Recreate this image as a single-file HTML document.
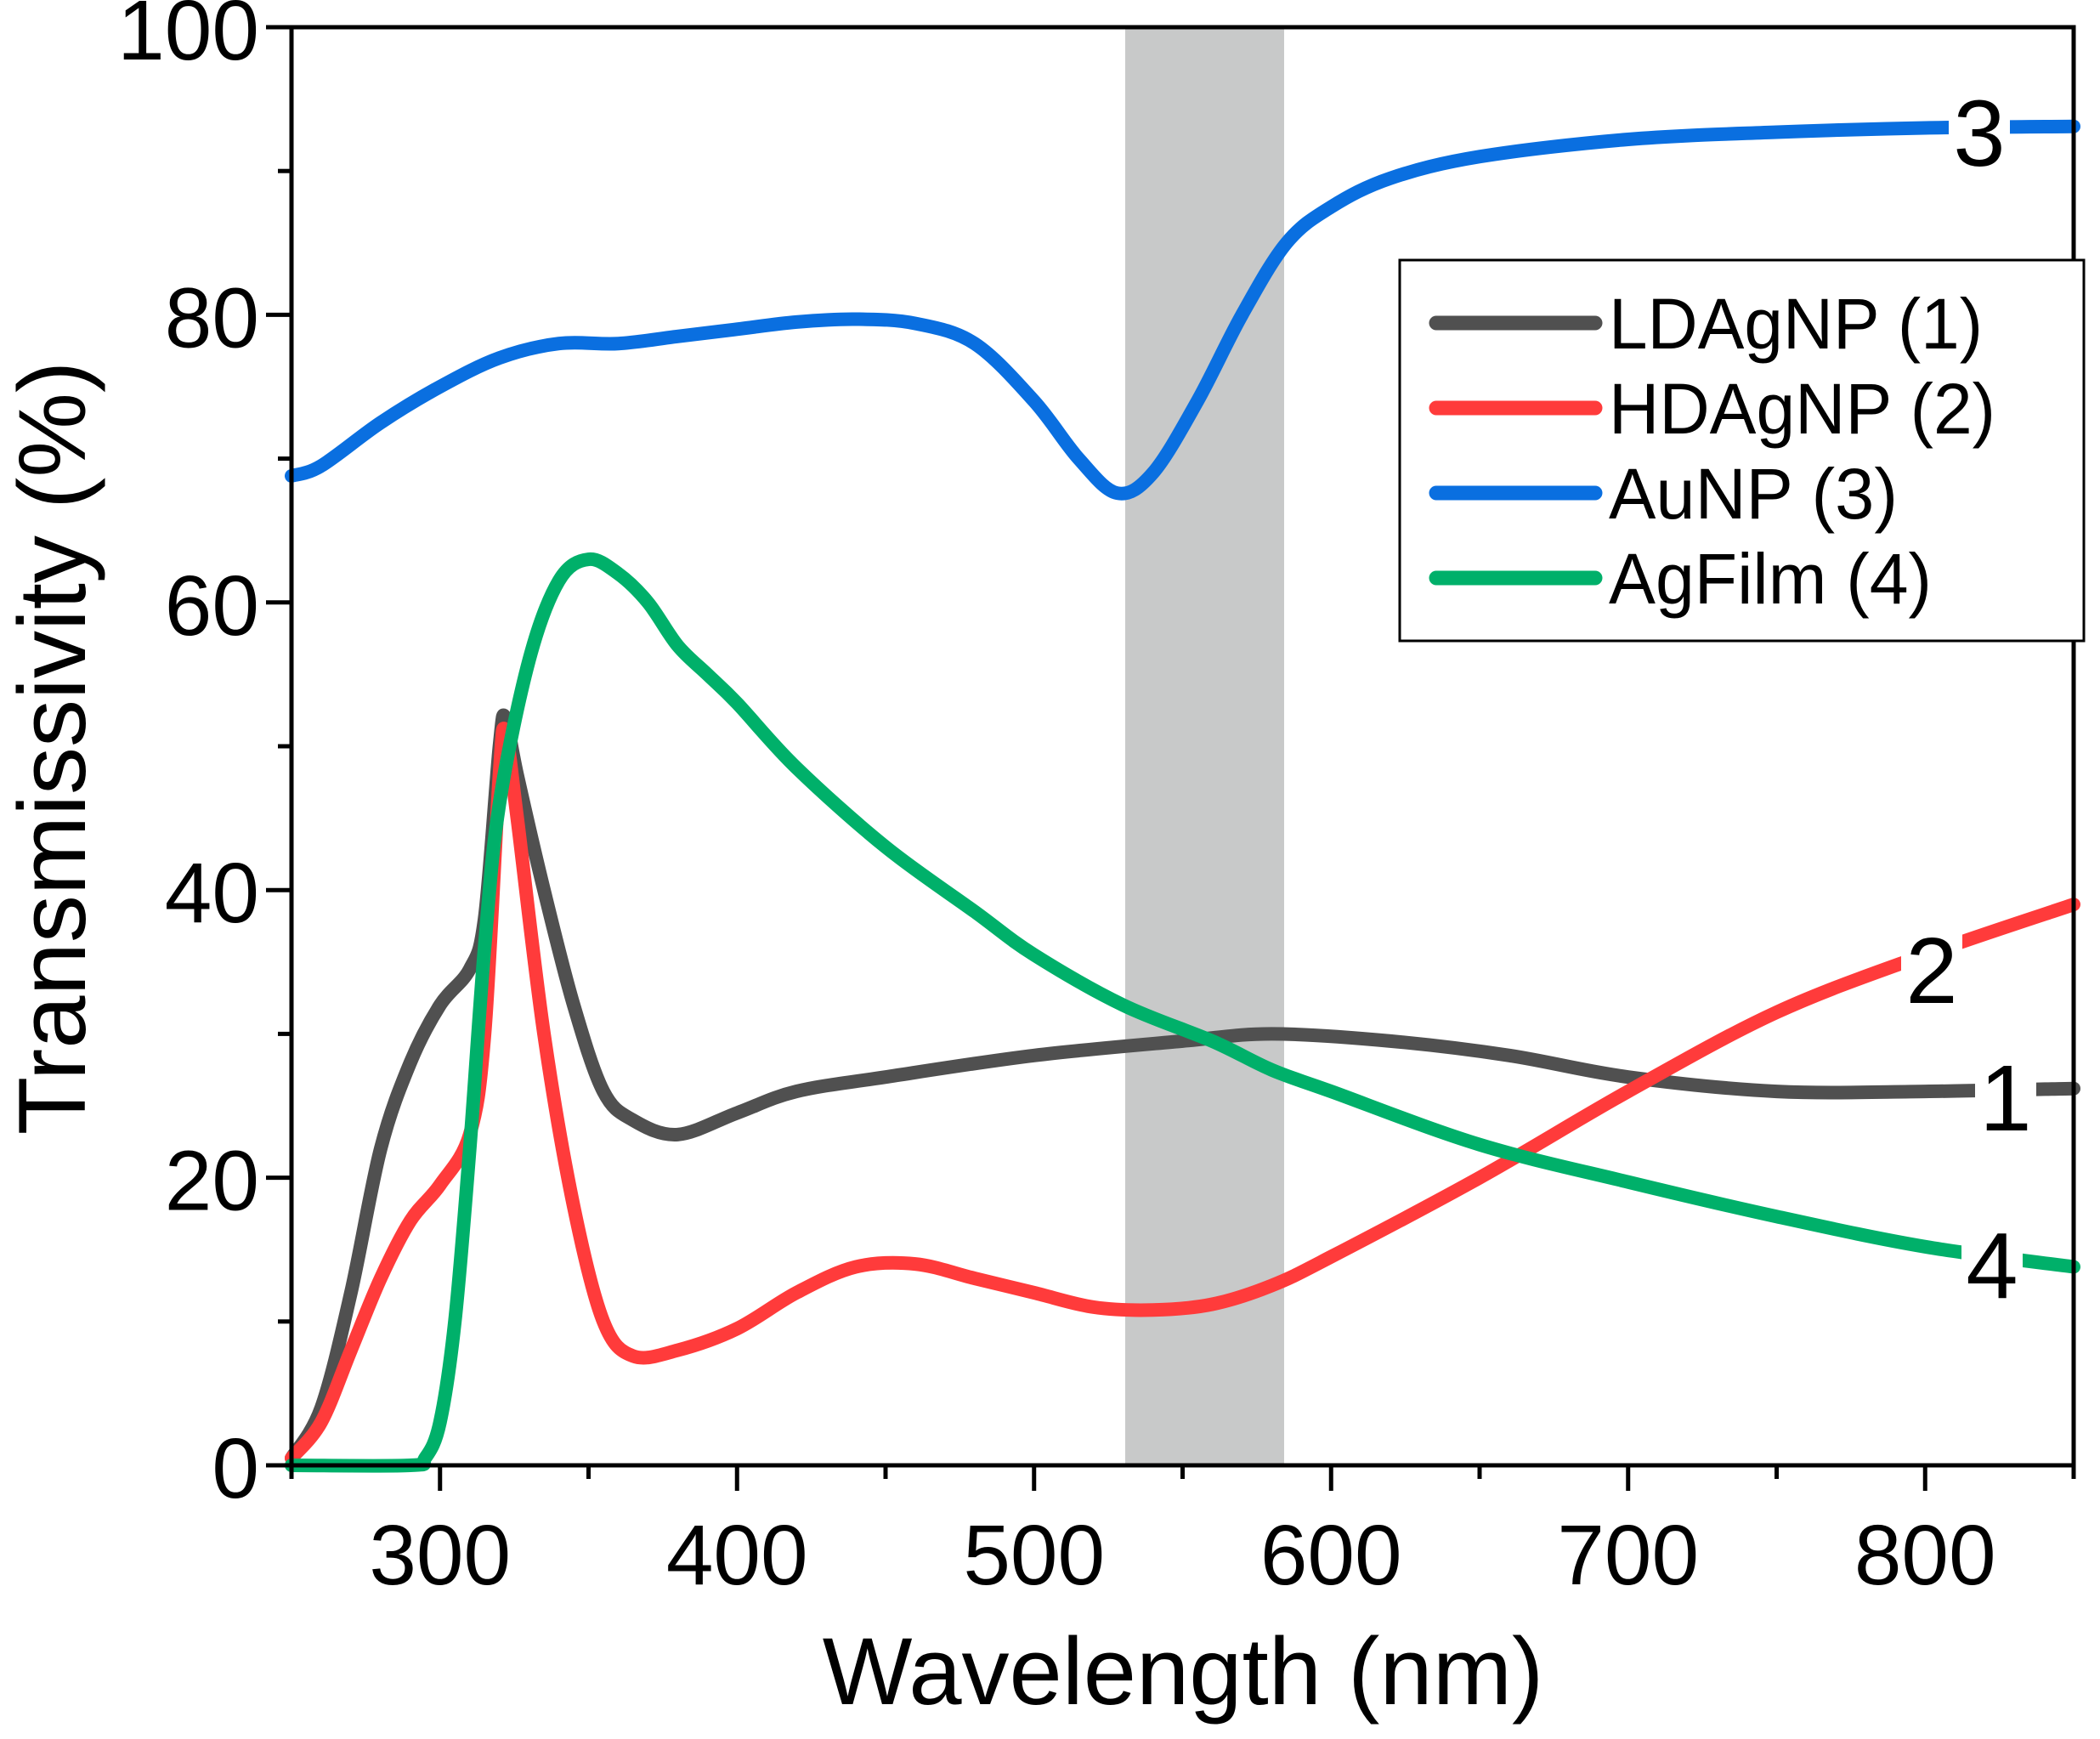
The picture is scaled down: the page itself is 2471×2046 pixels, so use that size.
<!DOCTYPE html>
<html><head><meta charset="utf-8"><style>
html,body{margin:0;padding:0;background:#fff}
svg{display:block}
text{font-family:"Liberation Sans",Arial,sans-serif;fill:#000}
</style></head><body>
<svg id="chart" width="2471" height="2046" viewBox="0 0 2471 2046" xmlns="http://www.w3.org/2000/svg">
<rect x="1324" y="32" width="187" height="1692" fill="#c8c9c9"/>
<g id="series"></g>
<g id="axes"></g>
<g>
<rect x="1647" y="306" width="805" height="448" fill="#fff" stroke="#000" stroke-width="3"/>
<line x1="1690" y1="380" x2="1877" y2="380" stroke="#505050" stroke-width="17" stroke-linecap="round"/>
<text x="1893" y="410" font-size="84" textLength="440" lengthAdjust="spacingAndGlyphs">LDAgNP (1)</text>
<line x1="1690" y1="480" x2="1877" y2="480" stroke="#ff3b3b" stroke-width="17" stroke-linecap="round"/>
<text x="1893" y="510" font-size="84" textLength="455" lengthAdjust="spacingAndGlyphs">HDAgNP (2)</text>
<line x1="1690" y1="580" x2="1877" y2="580" stroke="#0a6fe0" stroke-width="17" stroke-linecap="round"/>
<text x="1893" y="610" font-size="84" textLength="340" lengthAdjust="spacingAndGlyphs">AuNP (3)</text>
<line x1="1690" y1="680" x2="1877" y2="680" stroke="#00b06a" stroke-width="17" stroke-linecap="round"/>
<text x="1893" y="710" font-size="84" textLength="380" lengthAdjust="spacingAndGlyphs">AgFilm (4)</text>
</g>
<text transform="translate(100,880) rotate(-90)" text-anchor="middle" font-size="112"><tspan x="0" y="0">Transmissivity (%)</tspan></text>
<text x="1392" y="2005" text-anchor="middle" font-size="112">Wavelength (nm)</text>
</svg>
<script>
const wl1=[250,260,270,280,290,300,310,315,320,322,326,335,345,355,365,380,400,420,450,500,550,580,620,660,700,750,800,850];
const ld=[0.5,4,12,22,28,32,34.5,38,50,52,48,40,32,26,24,23,24.5,26,27,28.5,29.5,30,29.5,28.5,27,26,26,26.2];
const wl2=[250,260,270,280,290,300,310,315,320,322,326,335,345,355,365,380,400,420,440,460,480,500,520,540,560,580,600,650,700,750,800,850];
const hd=[0.5,3,8,13,17,19.5,23,30,48,51,45,30,18,10,7.6,8,9.5,12,13.8,14,13,12,11,10.8,11.2,12.5,14.5,20,26,31.5,35.5,39];
const wl3=[250,260,280,300,320,340,360,380,400,420,440,460,480,500,515,528,540,555,570,585,600,620,650,700,750,800,850];
const au=[68.8,69.5,72.5,75,77,78,78,78.5,79,79.5,79.7,79.4,78,74,70,67.6,69,74,80,85,87.5,89.5,91,92.2,92.7,93,93.1];
const wl4=[250,290,295,300,305,310,315,320,330,340,350,360,370,380,390,400,420,450,480,500,530,560,580,600,650,700,750,800,850];
const ag=[0,0,0.5,3,10,22,36,46,56,61.5,63,62,60,57,55,53,48.5,43,38.5,35.5,32,29.5,27.5,26,22.3,19.7,17.3,15.2,13.8];
const xTicks=[300,400,500,600,700,800];
const yTicks=[0,20,40,60,80,100];
const NS="http://www.w3.org/2000/svg";
const X0=343,X1=2440,Y0=1724,Y1=32;
function sx(v){return X0+(v-250)/(850-250)*(X1-X0);}
function sy(v){return Y0-(v/100)*(Y0-Y1);}
function mk(t,a){const e=document.createElementNS(NS,t);for(const k in a)e.setAttribute(k,a[k]);return e;}
function pathD(xs,ys){
  const p=xs.map((x,i)=>[sx(x),sy(ys[i])]);
  let d="M"+p[0][0]+","+p[0][1];
  for(let i=0;i<p.length-1;i++){
    const p0=p[i-1]||p[i],p1=p[i],p2=p[i+1],p3=p[i+2]||p2;
    const c1=[p1[0]+(p2[0]-p0[0])/6,p1[1]+(p2[1]-p0[1])/6];
    const c2=[p2[0]-(p3[0]-p1[0])/6,p2[1]-(p3[1]-p1[1])/6];
    d+=` C${c1[0]},${c1[1]} ${c2[0]},${c2[1]} ${p2[0]},${p2[1]}`;
  }
  return d;
}
const sg=document.getElementById("series");
[[wl3,au,"#0a6fe0","aunp-line"],[wl1,ld,"#505050","ldagnp-line"],[wl2,hd,"#ff3b3b","hdagnp-line"],[wl4,ag,"#00b06a","agfilm-line"]].forEach(s=>{
  const el=mk("path",{d:pathD(s[0],s[1]),fill:"none",stroke:s[2],"stroke-width":16,"stroke-linejoin":"round","stroke-linecap":"round"});
  
  
  sg.appendChild(el);
});
[["3",2329,195,"label-3"],["2",2273,1180,"label-2"],["1",2360,1330,"label-1"],["4",2344,1527,"label-4"]].forEach(l=>{
  const bg=mk("rect",{x:l[1]-36,y:l[2]-82,width:72,height:84,fill:"#fff"});
  
  
  sg.appendChild(bg);
  const t=mk("text",{x:l[1],y:l[2],"text-anchor":"middle","font-size":110,fill:"#222"});
  t.textContent=l[0];
  
  
  sg.appendChild(t);
});
const ax=document.getElementById("axes");
const frame=mk("rect",{x:X0,y:Y1,width:X1-X0,height:Y0-Y1,fill:"none",stroke:"#000","stroke-width":5});


ax.appendChild(frame);
for(let v=250;v<=850;v+=50){
  const major=xTicks.indexOf(v)>=0;
  const t=mk("line",{x1:sx(v),y1:Y0,x2:sx(v),y2:Y0+(major?30:16),stroke:"#000","stroke-width":5});
  
  
  ax.appendChild(t);
}
xTicks.forEach(v=>{
  const t=mk("text",{x:sx(v),y:Y0+140,"text-anchor":"middle","font-size":100});
  t.textContent=v;
  
  
  ax.appendChild(t);
});
for(let v=0;v<=100;v+=10){
  const major=yTicks.indexOf(v)>=0;
  const t=mk("line",{x1:X0,y1:sy(v),x2:X0-(major?30:16),y2:sy(v),stroke:"#000","stroke-width":5});
  
  
  ax.appendChild(t);
}
yTicks.forEach(v=>{
  const t=mk("text",{x:X0-38,y:sy(v)+38,"text-anchor":"end","font-size":100});
  t.textContent=v;
  
  
  ax.appendChild(t);
});
</script>
</body></html>
